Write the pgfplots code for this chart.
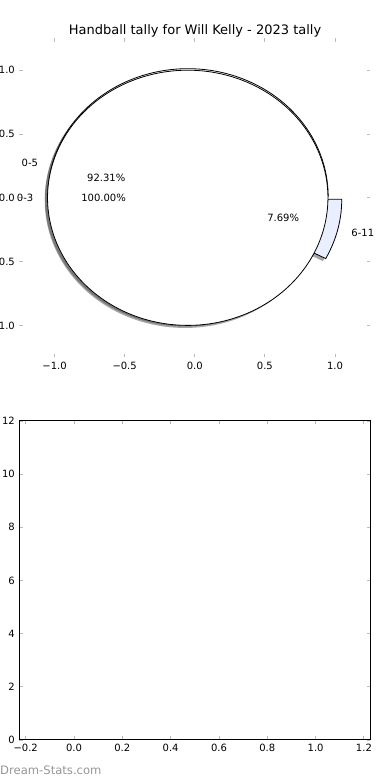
\documentclass[border=0pt]{standalone}
\usepackage{fontspec}
\setmainfont{DejaVu Sans}
\usepackage{pgfplots}
\pgfplotsset{compat=1.18}
\definecolor{wedgeblue}{RGB}{234,239,255}
\definecolor{shadowgray}{rgb}{0.3,0.3,0.3}
\definecolor{shadowblue}{rgb}{0.275,0.287,0.3}
\definecolor{wm}{RGB}{150,150,150}
% pie data (percent)
\def\pA{92.31}
\def\pB{7.69}
\def\pC{100}
\def\expl{0.05}
\pgfmathsetmacro\angA{3.6*\pA}
\pgfmathsetmacro\midA{\angA/2}
\pgfmathsetmacro\midB{\angA+1.8*\pB}
\pgfmathsetmacro\cAx{\expl*cos(\midA)}
\pgfmathsetmacro\cAy{\expl*sin(\midA)}
\pgfmathsetmacro\cBx{\expl*cos(\midB)}
\pgfmathsetmacro\cBy{\expl*sin(\midB)}
\pgfmathsetmacro\cCx{-\expl}
\pgfmathsetmacro\cCy{0}
\pgfmathsetmacro\sAx{\cAx-0.02}
\pgfmathsetmacro\sAy{\cAy-0.02}
\pgfmathsetmacro\sBx{\cBx-0.02}
\pgfmathsetmacro\sBy{\cBy-0.02}
\pgfmathsetmacro\sCx{\cCx-0.02}
\pgfmathsetmacro\sCy{\cCy-0.02}
\pgfmathsetmacro\lAx{\cAx+1.1*cos(\midA)}
\pgfmathsetmacro\lAy{\cAy+1.1*sin(\midA)}
\pgfmathsetmacro\lBx{\cBx+1.1*cos(\midB)}
\pgfmathsetmacro\lBy{\cBy+1.1*sin(\midB)}
\pgfmathsetmacro\qAx{\cAx+0.6*cos(\midA)}
\pgfmathsetmacro\qAy{\cAy+0.6*sin(\midA)}
\pgfmathsetmacro\qBx{\cBx+0.6*cos(\midB)}
\pgfmathsetmacro\qBy{\cBy+0.6*sin(\midB)}
\pgfmathsetmacro\lCx{\cCx-1.1}
\pgfmathsetmacro\qCx{\cCx-0.6}
\newcommand{\lbl}{\fontsize{10bp}{12bp}\selectfont}
\begin{document}
\begin{tikzpicture}
\path[use as bounding box] (0bp,0bp) rectangle (390bp,780bp);
\pgfplotsset{
  mystyle/.style={
    scale only axis, width=350.5bp, height=319bp, anchor=south west,
    enlargelimits=false,
    tick align=inside, major tick length=3.5bp,
    tick style={draw=black!27, line width=0.9bp},
    tick label style={font=\lbl, inner sep=0pt},
    yticklabel style={xshift=-4.5bp},
    xticklabel style={yshift=-4.3bp},
    /pgf/number format/assume math mode=true,
  }
}
\begin{axis}[mystyle, at={(19.5bp,422.7bp)},
  xmin=-1.25, xmax=1.25, ymin=-1.25, ymax=1.25,
  axis line style={draw=none},
  xtick={-1,-0.5,0,0.5,1}, xticklabels={−1.0,−0.5,0.0,0.5,1.0},
  ytick={-1,-0.5,0,0.5,1}, yticklabels={−1.0,−0.5,0.0,0.5,1.0},
  clip=false]
% shadows
\addplot[draw=none, fill=shadowgray, fill opacity=0.5, mark=none, domain=0:\angA, samples=200, variable=\t]
  ({\sAx+cos(\t)},{\sAy+sin(\t)}) -- (axis cs:\sAx,\sAy) -- cycle;
\addplot[draw=none, fill=shadowblue, fill opacity=0.5, mark=none, domain=\angA:360, samples=40, variable=\t]
  ({\sBx+cos(\t)},{\sBy+sin(\t)}) -- (axis cs:\sBx,\sBy) -- cycle;
\addplot[draw=none, fill=shadowgray, fill opacity=0.5, mark=none, domain=0:360, samples=240, variable=\t]
  ({\sCx+cos(\t)},{\sCy+sin(\t)}) -- cycle;
% outer pie: 0-5 and 6-11
\addplot[draw=black, line width=0.8bp, fill=white, mark=none, domain=0:\angA, samples=200, variable=\t]
  ({\cAx+cos(\t)},{\cAy+sin(\t)}) -- (axis cs:\cAx,\cAy) -- cycle;
\addplot[draw=black, line width=0.8bp, fill=wedgeblue, mark=none, domain=\angA:360, samples=40, variable=\t]
  ({\cBx+cos(\t)},{\cBy+sin(\t)}) -- (axis cs:\cBx,\cBy) -- cycle;
% second pie: 0-3 (100%)
\addplot[draw=black, line width=0.8bp, fill=white, mark=none, domain=0:360, samples=240, variable=\t]
  ({\cCx+cos(\t)},{\cCy+sin(\t)}) -- cycle;
% labels
\node[anchor=east, inner sep=0pt, font=\lbl] at (axis cs:\lAx,\lAy) {0-5};
\node[anchor=west, inner sep=0pt, font=\lbl] at (axis cs:\lBx,\lBy) {6-11};
\node[anchor=east, inner sep=0pt, font=\lbl] at (axis cs:\lCx,0) {0-3};
\node[inner sep=0pt, font=\lbl] at (axis cs:\qAx,\qAy) {92.31\%};
\node[inner sep=0pt, font=\lbl] at (axis cs:\qBx,\qBy) {7.69\%};
\node[inner sep=0pt, font=\lbl] at (axis cs:\qCx,0) {100.00\%};
\end{axis}
\begin{axis}[mystyle, at={(19.5bp,40bp)},
  xmin=-0.2256, xmax=1.2252, ymin=0, ymax=12,
  axis line style={draw=black, line width=1bp},
  xtick={-0.2,0,0.2,0.4,0.6,0.8,1.0,1.2},
  xticklabels={−0.2,0.0,0.2,0.4,0.6,0.8,1.0,1.2},
  ytick={0,2,4,6,8,10,12}, yticklabels={0,2,4,6,8,10,12}]
\end{axis}
\node[anchor=base, inner sep=0pt, font=\fontsize{13bp}{15bp}\selectfont] at (195bp,745.5bp) {Handball tally for Will Kelly - 2023 tally};
\node[anchor=west, inner sep=0pt, text=wm, font=\fontsize{11.6bp}{14bp}\selectfont] at (0bp,10bp) {Dream-Stats.com};
\end{tikzpicture}
\end{document}
